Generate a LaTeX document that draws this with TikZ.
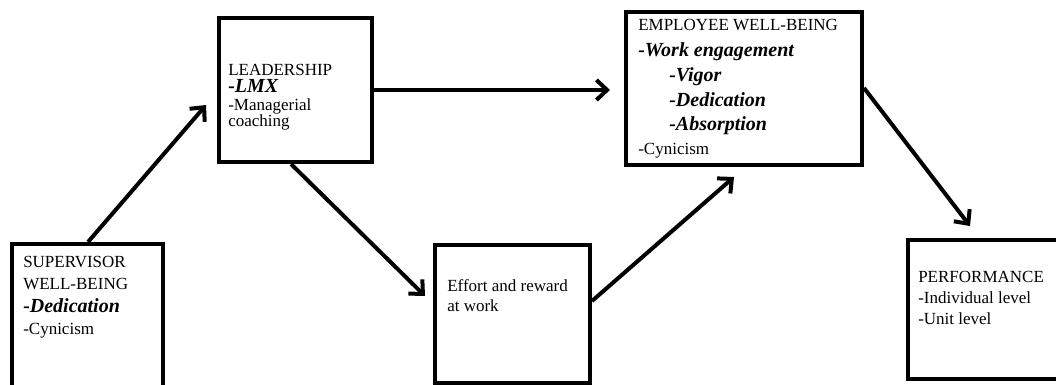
\documentclass[tikz,border=0pt]{standalone}
\usepackage{fontspec}
\setmainfont{Liberation Serif}
\usetikzlibrary{arrows.meta,fit,calc}
\begin{document}
\begin{tikzpicture}[x=0.75pt,y=-0.75pt,
  box/.style={draw, line width=3pt, inner sep=0pt},
  conn/.style={line width=3pt, -{Straight Barb[length=8pt,width=15pt]}},
  reg/.style={anchor=base west, inner sep=0pt, font=\fontsize{12.75}{15}\selectfont},
  bi/.style={anchor=base west, inner sep=0pt, font=\fontsize{15}{18}\selectfont\bfseries\itshape}]
\useasboundingbox (0,0) rectangle (1056,385);
\clip (0,0) rectangle (1056,385);

% boxes
\node[box, fit={(12,244) (163,400)}] (sup) {};
\node[box, fit={(219,18) (372,162)}] (lead) {};
\node[box, fit={(626,12) (862,165)}] (emp) {};
\node[box, fit={(435,245) (590,383)}] (eff) {};
\node[box, fit={(908,240) (1075,379)}] (perf) {};

% supervisor text
\node[reg] (sup1) at (23,267) {SUPERVISOR};
\node[reg] (sup2) at (23,289) {WELL-BEING};
\node[bi]  (sup3) at (23,312) {-Dedication};
\node[reg] (sup4) at (23,334) {-Cynicism};

% leadership text
\node[reg] (lead1) at (228,75) {LEADERSHIP};
\node[bi]  (lead2) at (228,93) {-LMX};
\node[reg] (lead3) at (228,110) {-Managerial};
\node[reg] (lead4) at (228,127) {coaching};

% employee text
\node[reg] (emp1) at (638,31) {EMPLOYEE WELL-BEING};
\node[bi]  (emp2) at (638,57) {-Work engagement};
\node[bi]  (emp3) at (669,82) {-Vigor};
\node[bi]  (emp4) at (669,106) {-Dedication};
\node[bi]  (emp5) at (669,130) {-Absorption};
\node[reg] (emp6) at (638,154) {-Cynicism};

% effort text
\node[reg] (eff1) at (447,291) {Effort and reward};
\node[reg] (eff2) at (447,311) {at work};

% performance text
\node[reg] (perf1) at (918,282) {PERFORMANCE};
\node[reg] (perf2) at (918,303) {-Individual level};
\node[reg] (perf3) at (918,324) {-Unit level};

% connectors
\draw[conn] ($(sup.north west)+(78,0)$) -- ($(lead.north west)+(-11,89)$);
\draw[conn] ($(lead.south west)+(74,0)$) -- ($(eff.north west)+(-8,53)$);
\draw[conn] ($(lead.north east)+(0,74)$) -- ($(emp.north west)+(-14,80)$);
\draw[conn] ($(eff.north east)+(0,58)$) -- ($(emp.south west)+(110,10)$);
\draw[conn] ($(emp.north east)+(0,78)$) -- ($(perf.north west)+(64,-12)$);
\end{tikzpicture}
\end{document}
